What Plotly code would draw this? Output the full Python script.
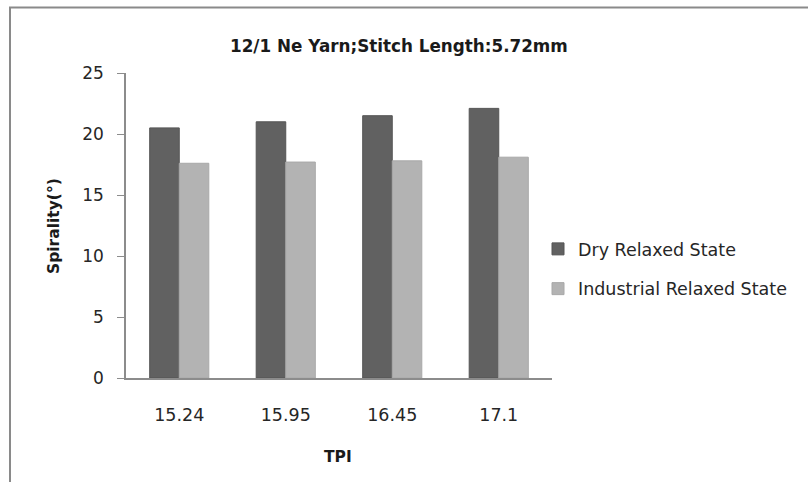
import plotly.graph_objects as go

categories = ["15.24", "15.95", "16.45", "17.1"]
dry_relaxed = [20.5, 21.0, 21.5, 22.1]
industrial_relaxed = [17.6, 17.7, 17.8, 18.1]
series_names = ["Dry Relaxed State", "Industrial Relaxed State"]
title_text = "12/1 Ne Yarn;Stitch Length:5.72mm"

FONT = "'DejaVu Sans', sans-serif"

fig = go.Figure()
fig.add_trace(go.Bar(x=categories, y=dry_relaxed, name=series_names[0],
                     marker=dict(color="#616161", line=dict(color="#555555", width=1)),
                     legendgroup="a"))
fig.add_trace(go.Bar(x=categories, y=industrial_relaxed, name=series_names[1],
                     marker=dict(color="#b3b3b3", line=dict(color="#a8a8a8", width=1)),
                     legendgroup="b"))

L, R, T, B = 126, 552, 73, 378
W, H = 808, 482
pw, ph = R - L, B - T

def px(x):
    return (x - L) / pw

def py(y):
    return (B - y) / ph

fig.update_layout(
    width=W, height=H,
    margin=dict(l=L, r=W - R, t=T, b=H - B, pad=0),
    paper_bgcolor="white", plot_bgcolor="white",
    barmode="group", bargap=0.445, bargroupgap=0,
    font=dict(family=FONT, color="#262626"),
    showlegend=True,
    legend=dict(x=px(538), y=py(231), xanchor="left", yanchor="top",
                font=dict(size=17.5, family=FONT, color="#262626"),
                traceorder="grouped", tracegroupgap=14,
                bgcolor="rgba(0,0,0,0)"),
    annotations=[
        dict(text="<b>" + title_text + "</b>", x=px(399), y=py(46), xref="paper", yref="paper",
             showarrow=False, font=dict(size=16.8, family=FONT, color="#1a1a1a"),
             xanchor="center", yanchor="middle"),
        dict(text="<b>Spirality(°)</b>", x=px(54), y=py(226), xref="paper", yref="paper",
             showarrow=False, textangle=-90, font=dict(size=15.5, family=FONT, color="#1a1a1a"),
             xanchor="center", yanchor="middle"),
        dict(text="<b>TPI</b>", x=px(338), y=py(457), xref="paper", yref="paper",
             showarrow=False, font=dict(size=15.5, family=FONT, color="#1a1a1a"),
             xanchor="center", yanchor="middle"),
    ],
    shapes=[
        dict(type="rect", xref="paper", yref="paper",
             x0=px(10), x1=px(815), y0=py(7.5), y1=py(495),
             line=dict(color="#8a8a8a", width=2), fillcolor="rgba(0,0,0,0)", layer="below"),
    ],
)

fig.update_xaxes(type="category", showline=True, linecolor="#8c8c8c", linewidth=1.5,
                 ticks="", showgrid=False, tickfont=dict(size=17.5, family=FONT, color="#262626"),
                 ticklabelstandoff=20, automargin=False)
fig.update_yaxes(range=[0, 25], dtick=5, showline=True, linecolor="#8c8c8c", linewidth=1.5,
                 ticks="outside", ticklen=7, tickcolor="#8c8c8c", showgrid=False, zeroline=False,
                 tickfont=dict(size=17, family=FONT, color="#262626"), ticklabelstandoff=10,
                 automargin=False)

fig.write_html("out.html", config={"displayModeBar": False},
               post_script="document.body.style.margin='0';document.body.style.padding='0';")
